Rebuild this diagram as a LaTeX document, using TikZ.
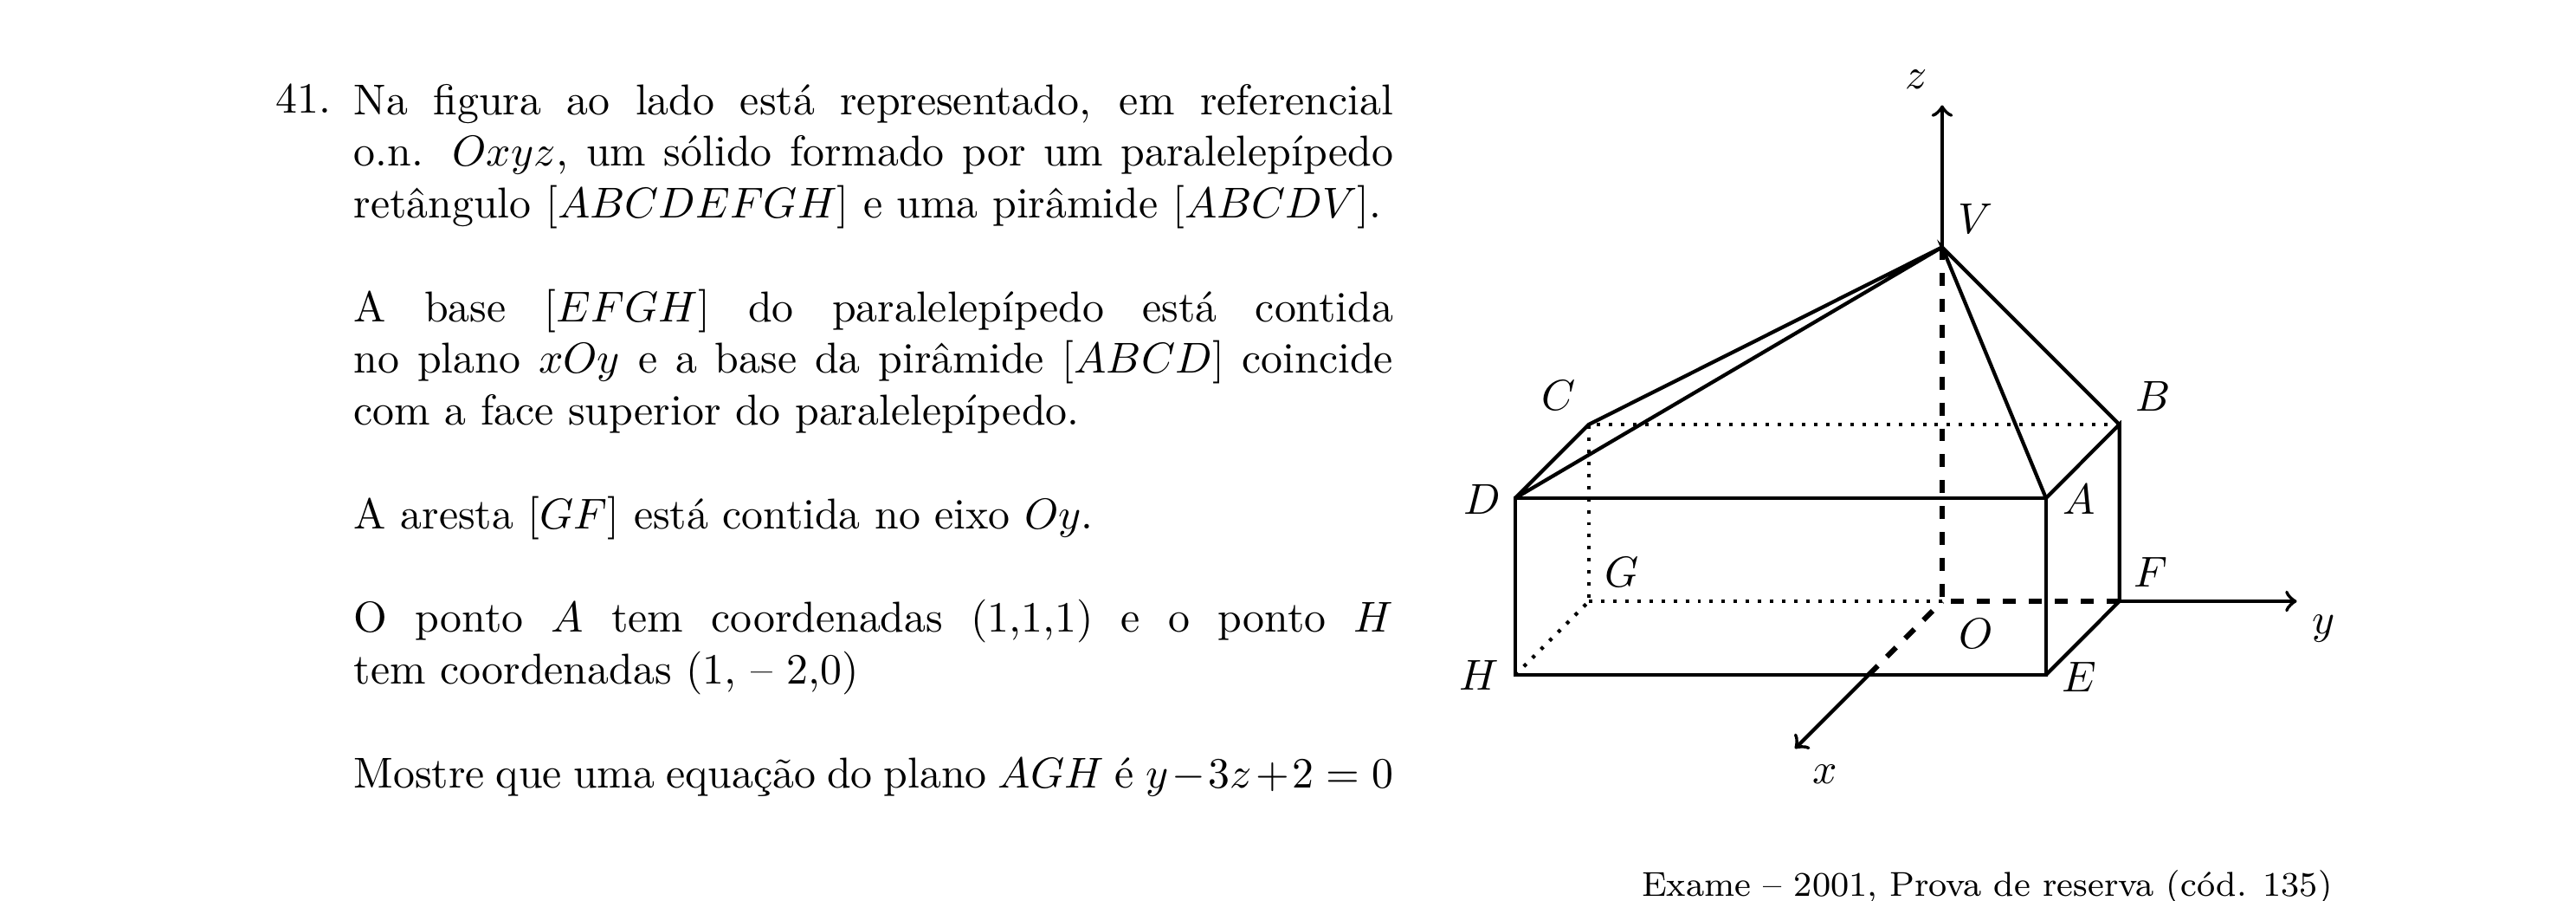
\documentclass[tikz,border=0pt]{standalone}
\usepackage{amsmath,amssymb}

\tikzset{
  edge/.style={line width=0.85pt},
  hidden/.style={line width=0.85pt, dash pattern=on 0.8pt off 2pt},
  dashedge/.style={line width=1.2pt, dash pattern=on 3pt off 3pt},
  axis/.style={line width=0.85pt, ->},
  pointlabel/.style={inner sep=0pt},
}

\begin{document}
\begin{tikzpicture}
  \useasboundingbox (-15.827,-2.441) rectangle (5.165,4.897);

  % statement
  \node[anchor=north west, inner sep=0pt, text width=241pt, align=justify] (statement) at (-12.95,4.22) {%
    \setlength{\parskip}{12pt}\setlength{\parindent}{0pt}%
    Na figura ao lado está representado, em referencial\linebreak
    o.n. $Oxyz$, um sólido formado por um paralelepípedo\linebreak
    retângulo $[ABCDEFGH]$ e uma pirâmide $[ABCDV]$.

    A base $[EFGH]$ do paralelepípedo está contida\linebreak
    no plano $xOy$ e a base da pirâmide $[ABCD]$ coincide\linebreak
    com a face superior do paralelepípedo.

    A aresta $[GF]$ está contida no eixo $Oy$.

    O ponto $A$ tem coordenadas (1,1,1) e o ponto $H$\linebreak
    tem coordenadas (1, -- 2,0)

    {\parfillskip=0pt Mostre que uma equação do plano $AGH$ é $y-3z+2=0$\par}
  };
  \node[anchor=north east, inner sep=0pt] (number) at (-13.12,4.22) {41.};
  \node[anchor=base east, inner sep=0pt, font=\footnotesize] (source) at (3.186,-2.40) {Exame -- 2001, Prova de reserva (cód. 135)};

  % solid
  \coordinate (O) at (0,0);
  \coordinate (A) at (0.846,0.84);
  \coordinate (B) at (1.444,1.44);
  \coordinate (C) at (-2.879,1.44);
  \coordinate (D) at (-3.479,0.84);
  \coordinate (E) at (0.846,-0.6);
  \coordinate (F) at (1.444,0);
  \coordinate (G) at (-2.879,0);
  \coordinate (H) at (-3.479,-0.6);
  \coordinate (V) at (0,2.884);
  \coordinate (xend) at (-1.2,-1.2);
  \coordinate (xcut) at (-0.6,-0.6);
  \coordinate (yend) at (2.89,0);
  \coordinate (zend) at (0,4.04);

  \draw[edge] (D) -- (A) -- (E) -- (H) -- cycle;
  \draw[edge] (A) -- (B) -- (F) -- (E);
  \draw[edge] (D) -- (C) -- (V) -- (D);
  \draw[edge] (A) -- (V) -- (B);
  \draw[hidden] (B) -- (C) -- (G);
  \draw[hidden] (G) -- (O);
  \draw[hidden] (H) -- (G);
  \draw[dashedge] (V) -- (O);
  \draw[dashedge] (F) -- (O);
  \draw[dashedge] (xcut) -- (O);
  \draw[axis] (xcut) -- (xend);
  \draw[axis] (F) -- (yend);
  \draw[axis] (V) -- (zend);

  \node[pointlabel] (labA) at (1.114,0.83) {$A$};
  \node[pointlabel] (labB) at (1.717,1.666) {$B$};
  \node[pointlabel] (labC) at (-3.128,1.676) {$C$};
  \node[pointlabel] (labD) at (-3.746,0.83) {$D$};
  \node[pointlabel] (labE) at (1.114,-0.615) {$E$};
  \node[pointlabel] (labF) at (1.697,0.24) {$F$};
  \node[pointlabel] (labG) at (-2.61,0.24) {$G$};
  \node[pointlabel] (labH) at (-3.776,-0.6) {$H$};
  \node[pointlabel] (labO) at (0.274,-0.265) {$O$};
  \node[pointlabel] (labV) at (0.275,3.113) {$V$};
  \node[pointlabel] (labx) at (-0.953,-1.41) {$x$};
  \node[pointlabel] (laby) at (3.112,-0.225) {$y$};
  \node[pointlabel] (labz) at (-0.207,4.247) {$z$};
\end{tikzpicture}
\end{document}
